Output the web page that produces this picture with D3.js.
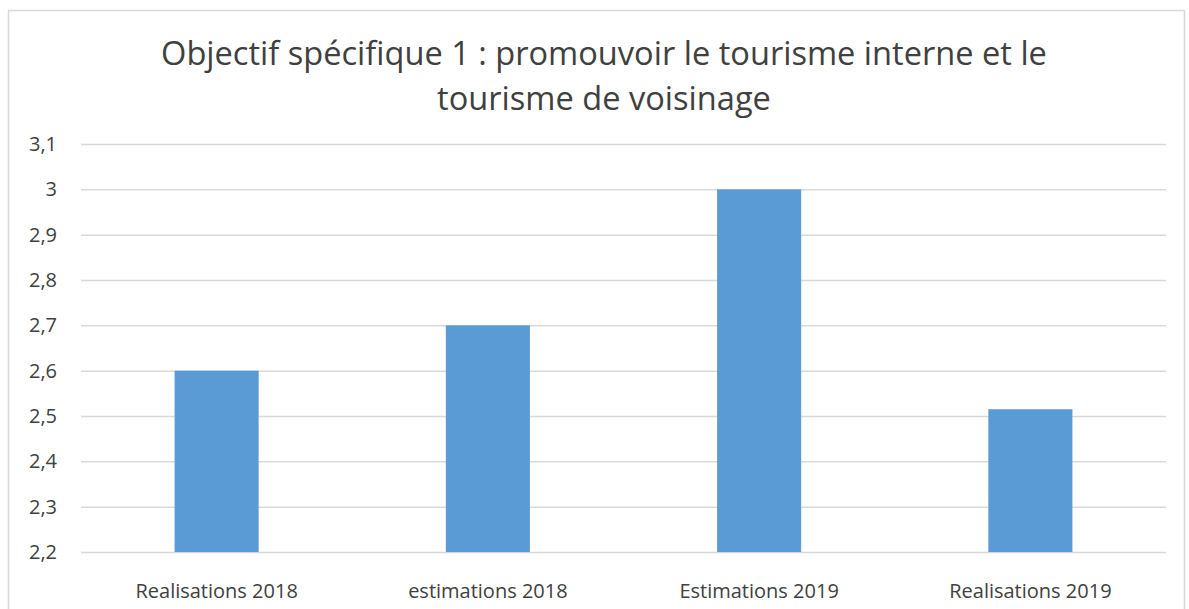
<!DOCTYPE html>
<html>
<head>
<meta charset="utf-8">
<script src="https://cdn.jsdelivr.net/npm/d3@7"></script>
<style>
  body { margin: 0; background: #fff; }
  svg { display: block; }
</style>
</head>
<body>
<svg id="chart" width="1189" height="609"></svg>
<script>
const categories = ["Realisations 2018", "estimations 2018", "Estimations 2019", "Realisations 2019"];
const values = [2.6, 2.7, 3.0, 2.515];
const yTicks = [2.2, 2.3, 2.4, 2.5, 2.6, 2.7, 2.8, 2.9, 3.0, 3.1];
const titleLines = ["Objectif spécifique 1 : promouvoir le tourisme interne et le", "tourisme de voisinage"];

const font = "'Open Sans', 'Liberation Sans', sans-serif";
const svg = d3.select("#chart");
const plotLeft = 81, plotRight = 1166, plotTop = 144, plotBottom = 552;

// frame
svg.append("rect")
    .attr("x", 8.5).attr("y", 10.5)
    .attr("width", 1176).attr("height", 620)
    .attr("fill", "#fff")
    .attr("stroke", "#d9d9d9")
    .attr("stroke-width", 1.5);

svg.selectAll(".title")
    .data(titleLines)
    .join("text")
    .attr("class", "title")
    .attr("x", 604)
    .attr("y", (d, i) => 65 + i * 45)
    .attr("text-anchor", "middle")
    .attr("font-family", font)
    .attr("font-size", "32.6px")
    .attr("fill", "#404040")
    .text(d => d);

const x = d3.scaleBand()
    .domain(categories)
    .range([plotLeft, plotRight])
    .paddingInner(0.69)
    .paddingOuter(0.345);

const y = d3.scaleLinear()
    .domain([2.2, 3.1])
    .range([plotBottom, plotTop]);

const fmt = d => String(+d.toFixed(1)).replace(".", ",");

// gridlines + y labels
svg.append("g")
    .attr("transform", `translate(${plotLeft},0)`)
    .call(d3.axisLeft(y).tickValues(yTicks).tickSize(-(plotRight - plotLeft)).tickPadding(24).tickFormat(fmt))
    .call(g => g.select(".domain").remove())
    .call(g => g.selectAll(".tick line").attr("stroke", "#d9d9d9").attr("stroke-width", 1.5))
    .call(g => g.selectAll(".tick text")
        .attr("font-family", font).attr("font-size", "20px").attr("fill", "#404040"));

svg.append("g")
    .selectAll("rect")
    .data(values)
    .join("rect")
    .attr("x", (d, i) => x(categories[i]))
    .attr("y", d => y(d))
    .attr("width", x.bandwidth())
    .attr("height", d => y(2.2) - y(d))
    .attr("fill", "#5b9bd5");

// x labels
svg.append("g")
    .attr("transform", `translate(0,${plotBottom})`)
    .call(d3.axisBottom(x).tickSize(0).tickPadding(32))
    .call(g => g.select(".domain").remove())
    .call(g => g.selectAll(".tick text")
        .attr("font-family", font).attr("font-size", "20px").attr("fill", "#404040"));
</script>
</body>
</html>
